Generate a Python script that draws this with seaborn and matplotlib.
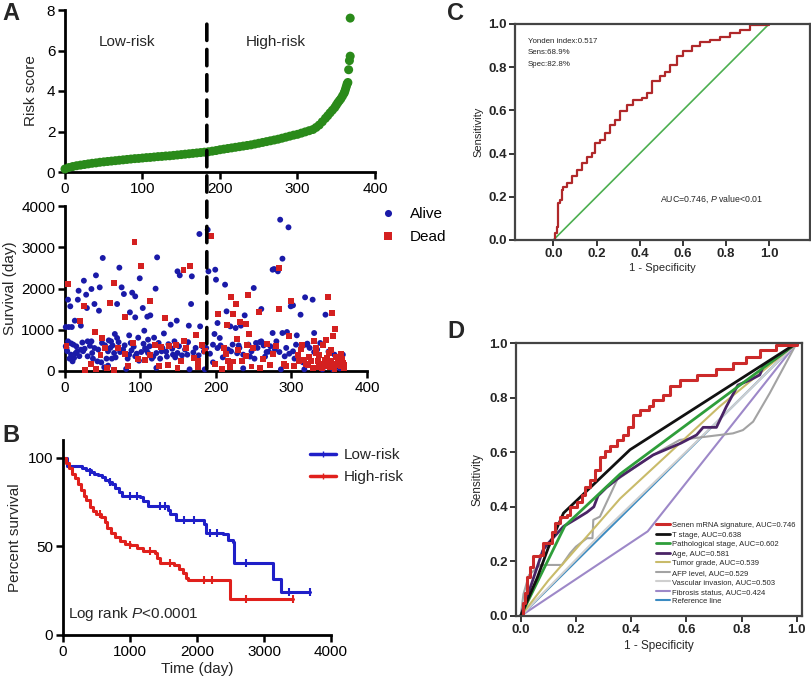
import numpy as np
import pandas as pd
import seaborn as sns
import matplotlib.pyplot as plt
import matplotlib.transforms as mtransforms
from matplotlib.lines import Line2D
from matplotlib.patches import ConnectionPatch

# ---- Panel A (top): sorted risk score ----
risk_rank = [0, 5, 10, 15, 20, 25, 30, 35, 40, 45, 50, 55, 60, 65, 70, 75, 80, 85, 90, 95,
             100, 105, 110, 115, 120, 125, 130, 135, 140, 145, 150, 155, 160, 165, 170, 175,
             180, 185, 190, 195, 200, 205, 210, 215, 220, 225, 230, 235, 240, 245, 250, 255,
             260, 265, 270, 275, 280, 285, 290, 295, 300, 305, 310, 315, 320, 324, 328, 332,
             336, 339, 342, 345, 348, 350, 352, 354, 356, 358, 360, 361, 362, 363, 364, 365,
             366, 367, 368, 368]
risk_score = [0.15, 0.22, 0.27, 0.31, 0.34, 0.37, 0.40, 0.43, 0.45, 0.48, 0.50, 0.52, 0.54, 0.56,
              0.58, 0.60, 0.62, 0.64, 0.66, 0.67, 0.69, 0.71, 0.72, 0.74, 0.76, 0.77, 0.79, 0.80,
              0.82, 0.84, 0.86, 0.88, 0.90, 0.92, 0.94, 0.96, 0.98, 1.00, 1.03, 1.06, 1.10, 1.13,
              1.16, 1.19, 1.22, 1.25, 1.28, 1.31, 1.34, 1.38, 1.42, 1.46, 1.50, 1.54, 1.58, 1.62,
              1.67, 1.72, 1.77, 1.82, 1.86, 1.92, 1.98, 2.04, 2.10, 2.20, 2.32, 2.48, 2.65, 2.78,
              2.92, 3.05, 3.18, 3.30, 3.42, 3.52, 3.62, 3.75, 3.88, 3.98, 4.10, 4.22, 4.35, 4.42,
              5.05, 5.50, 5.72, 7.60]
cutoff_rank = 183

# ---- Panel A (bottom): survival time by rank ----
alive_rank = [50, 122, 72, 99, 41, 25, 18, 28, 35, 46, 75, 78, 89, 93, 120, 4, 17, 7, 39, 29,
              69, 45, 103, 113, 109, 86, 93, 13, 21, 1, 5, 9, 66, 58, 69, 85, 97, 105, 110, 118,
              131, 4, 8, 15, 21, 30, 35, 39, 53, 61, 57, 65, 73, 79, 85, 101, 93, 106, 121, 128,
              8, 12, 10, 30, 36, 43, 110, 52, 57, 48, 81, 121, 1, 2, 16, 24, 62, 88, 115, 135,
              178, 189, 149, 152, 168, 190, 199, 200, 212, 250, 275, 167, 214, 238, 260, 140,
              148, 164, 179, 202, 226, 233, 219, 198, 205, 253, 260, 145, 162, 149, 182, 196,
              202, 220, 247, 251, 236, 267, 143, 196, 236, 165, 185, 258, 210, 230,
              285, 296, 288, 277, 282, 318, 328, 299, 302, 312, 345, 275, 288, 294, 307, 330,
              338, 280, 306, 319, 321, 291, 302, 330, 357, 368, 315, 286, 317, 341, 355, 364,
              3, 6, 11, 14, 19, 23, 26, 33, 37, 44, 49, 55, 60, 63, 67, 71, 77, 83, 87, 91, 95,
              98, 104, 108, 112, 117, 124, 126, 129, 134, 137, 142, 146, 151, 155, 159, 163,
              170, 173, 177, 184, 187, 192, 206, 209, 216, 222, 228, 231, 243, 245, 255, 263,
              265, 270, 272, 278, 284, 293, 297, 304, 313, 324, 334, 349, 360]
alive_days = [2740, 2755, 2505, 2247, 2319, 2189, 1946, 1850, 1988, 2028, 2028, 1866, 1899, 1810,
              1996, 1729, 1729, 1568, 1624, 1527, 1624, 1462, 1527, 1349, 1317, 1422, 1300, 1220,
              1099, 1066, 1066, 1066, 897, 743, 800, 864, 808, 977, 760, 808, 910, 719, 670, 598,
              517, 719, 719, 557, 622, 719, 477, 436, 460, 622, 396, 460, 356, 550, 436, 477, 396,
              315, 234, 356, 436, 234, 436, 90, 130, 210, 50, 75, 600, 560, 470, 480, 300, 500,
              300, 350,
              3321, 3425, 2416, 2319, 2295, 2416, 2456, 2214, 2093, 2012, 2456, 1624, 1446, 1349,
              1503, 1123, 1220, 1099, 1082, 1163, 1042, 1099, 1082, 897, 800, 679, 719, 719, 396,
              436, 598, 638, 557, 477, 477, 299, 396, 460, 396, 210, 65, 40, 40, 700, 560, 620,
              3668, 3483, 2723, 2472, 2416, 1786, 1729, 1568, 1592, 1365, 1365, 921, 921, 945,
              864, 921, 679, 719, 638, 638, 663, 356, 477, 460, 396, 396, 210, 40, 40, 40, 40, 65,
              480, 300, 640, 430, 360, 690, 540, 610, 300, 520, 680, 300, 560, 620, 330, 700,
              520, 300, 680, 590, 420, 250, 660, 500, 600, 350, 680, 300, 560, 470, 650, 540,
              330, 600, 380, 520, 700, 450, 560, 380, 470, 560, 420, 620, 330, 520, 640, 430,
              560, 640, 350, 560, 620, 350, 470, 600, 520, 460, 560, 420, 300, 560, 560, 520,
              470, 330]
dead_rank = [92, 101, 4, 65, 112, 25, 60, 80, 20, 132, 40, 49, 90, 127, 53, 79, 113, 47, 97,
             27, 41, 65, 125,
             193, 157, 166, 242, 220, 226, 203, 223, 257, 214, 240, 232, 228, 244, 241, 267,
             174, 158, 147, 138, 181, 213, 216, 240, 229, 154, 171, 176, 222, 247, 258, 149,
             176, 208,
             283, 299, 348, 283, 354, 358, 297, 355, 346, 330, 280, 314, 309, 333, 337, 350,
             366, 310, 317, 326, 335, 344, 348, 353, 361, 368, 365, 346, 339, 369, 293, 357,
             322, 340, 362,
             2, 34, 56, 70, 84, 106, 119, 137, 160, 186, 199, 211, 218, 235, 249, 262, 271,
             276, 290, 303, 312, 319, 323, 328, 332, 336, 343, 347, 351, 356, 359, 363, 367,
             370, 352, 342]
dead_days = [3127, 2537, 2117, 2140, 1689, 1568, 1640, 1317, 1220, 1276, 937, 800, 687, 590,
             550, 412, 380, 380, 299, 25, 50, 20, 130,
             3265, 2456, 2537, 1850, 1802, 1624, 1382, 1373, 1422, 1123, 1139, 1188, 768, 897,
             638, 663, 881, 719, 622, 598, 638, 412, 250, 356, 517, 234, 315, 234, 230, 108,
             65, 65, 100, 40,
             2488, 1705, 1794, 1511, 1405, 1018, 840, 840, 760, 719, 598, 638, 396, 436, 396,
             436, 420, 234, 275, 250, 250, 275, 194, 234, 275, 194, 113, 113, 153, 65, 113, 40,
             150, 60, 150,
             600, 160, 80, 560, 120, 260, 640, 150, 560, 480, 160, 560, 100, 250, 560, 300, 150,
             420, 180, 120, 520, 160, 330, 80, 560, 90, 160, 320, 90, 180, 330, 200, 300, 150,
             500, 620]

# ---- Panel B: Kaplan-Meier ----
low_time = [0, 60, 280, 350, 420, 470, 520, 580, 630, 680, 730, 780, 830, 880, 1150, 1200,
            1270, 1560, 1600, 1680, 2100, 2140, 2390, 2470, 2530, 2550, 3130, 3250, 3680]
low_surv = [100, 95.3, 94, 93, 92, 91, 90, 89, 87.5, 86.5, 85, 83, 80.5, 78.5, 78, 75.5,
            72.5, 70.5, 68.5, 65, 62.5, 57.5, 57, 53.5, 52.5, 40.5, 31.5, 24.5, 24.5]
high_time = [0, 40, 90, 140, 180, 230, 270, 310, 350, 400, 450, 500, 560, 620, 660, 720, 780,
             850, 920, 1000, 1100, 1200, 1380, 1400, 1450, 1660, 1730, 1790, 1840, 1860, 2490,
             3440]
high_surv = [100, 97, 94, 91, 88.5, 85, 82, 78.5, 76, 72, 70, 68, 66.5, 63.5, 60.5, 57.5,
             55.5, 53, 51.5, 50.5, 49, 47.5, 46.5, 43.5, 40.5, 39.5, 37.5, 35, 32, 31, 20.5, 20.5]
low_cens_time = [400, 700, 1000, 1100, 1450, 1520, 1800, 1950, 2200, 2300, 2730, 3380, 3680]
low_cens_surv = [92, 86.5, 78.5, 78.5, 72.5, 72.5, 65, 65, 57.5, 57.5, 40.5, 24.5, 24.5]
high_cens_time = [550, 1000, 1300, 1600, 2100, 2220, 2730, 3440]
high_cens_surv = [68, 50.5, 47.5, 40.5, 31, 31, 20.5, 20.5]

# ---- Panel C: ROC ----
roc_fpr = [0, 0.008, 0.015, 0.02, 0.031, 0.039, 0.046, 0.065, 0.085, 0.108, 0.131, 0.155, 0.178,
           0.193, 0.216, 0.24, 0.263, 0.286, 0.309, 0.34, 0.371, 0.41, 0.433, 0.456, 0.495,
           0.518, 0.541, 0.572, 0.603, 0.641, 0.68, 0.726, 0.773, 0.819, 0.866, 0.912, 1.0]
roc_tpr = [0, 0.031, 0.062, 0.17, 0.185, 0.232, 0.247, 0.266, 0.294, 0.325, 0.355, 0.386, 0.402,
           0.448, 0.464, 0.495, 0.533, 0.556, 0.595, 0.626, 0.649, 0.657, 0.68, 0.734, 0.757,
           0.78, 0.811, 0.85, 0.873, 0.896, 0.915, 0.927, 0.94, 0.958, 0.974, 0.994, 1.0]

# ---- Panel D: ROC of clinical factors ----
d_names = ["Senen mRNA signature, AUC=0.746", "T stage, AUC=0.638",
           "Pathological stage, AUC=0.602", "Age, AUC=0.581", "Tumor grade, AUC=0.539",
           "AFP level, AUC=0.529", "Vascular invasion, AUC=0.503",
           "Fibrosis status, AUC=0.424", "Reference line"]
d_colors = ["#cc2a2a", "#111111", "#2e9e3a", "#4a2466", "#c9bb6a", "#a3a3a3", "#cfcfcf",
            "#9d88c8", "#3b8bc2"]
d_fpr = [
    [0, 0.007, 0.016, 0.024, 0.034, 0.046, 0.07, 0.082, 0.1, 0.112, 0.124, 0.143, 0.167, 0.179,
     0.203, 0.221, 0.233, 0.251, 0.269, 0.287, 0.306, 0.324, 0.348, 0.372, 0.39, 0.408, 0.432,
     0.463, 0.481, 0.517, 0.541, 0.576, 0.637, 0.709, 0.769, 0.817, 0.866, 0.926, 1.0],
    [0, 0.06, 0.1, 0.155, 0.396, 1.0],
    [0, 0.16, 0.36, 1.0],
    [0, 0.03, 0.08, 0.1, 0.13, 0.155, 0.2, 0.24, 0.265, 0.28, 0.31, 0.36, 0.48, 0.58, 0.637,
     0.661, 0.709, 0.745, 0.787, 0.83, 0.866, 0.878, 0.92, 1.0],
    [0, 0.1, 0.36, 0.72, 1.0],
    [0, 0.01, 0.03, 0.07, 0.149, 0.179, 0.2, 0.24, 0.26, 0.263, 0.287, 0.35, 0.48, 0.576,
     0.769, 0.805, 0.842, 0.902, 1.0],
    [0, 0.3, 0.7, 1.0],
    [0, 0.46, 1.0],
    [0, 1.0],
]
d_tpr = [
    [0, 0.046, 0.083, 0.144, 0.181, 0.218, 0.224, 0.267, 0.267, 0.309, 0.34, 0.364, 0.37, 0.401,
     0.419, 0.444, 0.474, 0.499, 0.535, 0.584, 0.603, 0.621, 0.645, 0.664, 0.694, 0.737, 0.755,
     0.768, 0.792, 0.81, 0.841, 0.866, 0.884, 0.905, 0.927, 0.95, 0.974, 0.992, 1.0],
    [0, 0.14, 0.25, 0.377, 0.609, 1.0],
    [0, 0.33, 0.52, 1.0],
    [0, 0.09, 0.24, 0.267, 0.3, 0.328, 0.355, 0.38, 0.4, 0.44, 0.47, 0.51, 0.59, 0.633, 0.663,
     0.691, 0.691, 0.767, 0.846, 0.864, 0.883, 0.913, 0.94, 1.0],
    [0, 0.13, 0.43, 0.767, 1.0],
    [0, 0.08, 0.15, 0.187, 0.187, 0.23, 0.254, 0.285, 0.285, 0.352, 0.364, 0.5, 0.59, 0.645,
     0.669, 0.681, 0.712, 0.816, 1.0],
    [0, 0.31, 0.7, 1.0],
    [0, 0.31, 1.0],
    [0, 1.0],
]
d_steps = [True, False, False, False, False, False, False, False, False]
d_widths = [2.2, 2.0, 2.0, 2.0, 1.5, 1.5, 1.5, 1.5, 1.5]

sns.set_style("ticks")
plt.rcParams['font.family'] = ['Liberation Sans', 'DejaVu Sans']
plt.rcParams['mathtext.fontset'] = 'custom'
plt.rcParams['mathtext.it'] = 'Liberation Sans:italic'
plt.rcParams['mathtext.rm'] = 'Liberation Sans'

W, H = 812, 684
fig = plt.figure(figsize=(W / 100, H / 100), dpi=100)


def px_axes(l, t, r, b):
    return fig.add_axes([l / W, 1 - b / H, (r - l) / W, (b - t) / H])


def style_open(ax):
    sns.despine(ax=ax)
    for s in ["left", "bottom"]:
        ax.spines[s].set_linewidth(2)
        ax.spines[s].set_color("black")
    ax.tick_params(direction="out", length=5, width=1.8, labelsize=11, colors="black", pad=2)


def style_box(ax):
    for s in ax.spines.values():
        s.set_linewidth(1.6)
        s.set_color("#444444")
    ax.tick_params(direction="out", length=4, width=1.3, labelsize=9.5, pad=2)
    for lab in ax.get_xticklabels() + ax.get_yticklabels():
        lab.set_fontweight("bold")


green = "#2a8a1a"
blue = "#1a1aa8"
red = "#d42020"

# Panel A top
ax1 = px_axes(65, 10, 375, 172)
sns.scatterplot(x=risk_rank, y=risk_score, color=green, s=42, edgecolor="none", ax=ax1,
                clip_on=False, zorder=3)
ax1.set_xlim(0, 400)
ax1.set_ylim(0, 8)
ax1.set_xticks(range(0, 401, 100))
ax1.set_yticks(range(0, 9, 2))
ax1.set_ylabel("Risk score", fontsize=11, labelpad=6)
ax1.text(80, 6.4, "Low-risk", fontsize=11, ha="center", va="center")
ax1.text(272, 6.4, "High-risk", fontsize=11, ha="center", va="center")
style_open(ax1)

# Panel A bottom
ax2 = px_axes(65, 206, 367, 371)
surv_df = pd.DataFrame({
    "rank": alive_rank + dead_rank,
    "days": alive_days + dead_days,
    "status": ["Alive"] * len(alive_rank) + ["Dead"] * len(dead_rank),
})
sns.scatterplot(data=surv_df, x="rank", y="days", hue="status", style="status",
                palette={"Alive": blue, "Dead": red}, markers={"Alive": "o", "Dead": "s"},
                s=18, edgecolor="none", ax=ax2, clip_on=False, zorder=3)
ax2.set_xlim(0, 400)
ax2.set_ylim(0, 4000)
ax2.set_xticks(range(0, 401, 100))
ax2.set_yticks(range(0, 4001, 1000))
ax2.set_xlabel("")
ax2.set_ylabel("Survival (day)", fontsize=11, labelpad=3)
style_open(ax2)
leg = ax2.legend(loc="upper left", bbox_to_anchor=(1.0, 1.03), frameon=False, fontsize=11,
                 handletextpad=0.4, labelspacing=0.6, markerscale=1.2, borderaxespad=0)
for t in leg.get_texts():
    t.set_color("black")

# cutoff dashed line across both scatter panels
con = ConnectionPatch(xyA=(cutoff_rank, 7.3), coordsA=ax1.transData,
                      xyB=(cutoff_rank, 0),
                      coordsB=mtransforms.blended_transform_factory(ax1.transData, ax2.transData),
                      color="black", lw=2.6, linestyle=(0, (4.5, 2.5)), zorder=5)
fig.add_artist(con)

# Panel B
ax3 = px_axes(63, 440, 331, 635)
sns.lineplot(x=low_time, y=low_surv, drawstyle="steps-post", color="#1f1fc8", lw=2.2,
             estimator=None, ax=ax3)
sns.lineplot(x=high_time, y=high_surv, drawstyle="steps-post", color="#e0201c", lw=2.2,
             estimator=None, ax=ax3)
sns.scatterplot(x=low_cens_time, y=low_cens_surv, marker="|", color="#1f1fc8", s=30,
                linewidth=1.5, ax=ax3)
sns.scatterplot(x=high_cens_time, y=high_cens_surv, marker="|", color="#e0201c", s=30,
                linewidth=1.5, ax=ax3)
ax3.set_xlim(0, 4000)
ax3.set_ylim(0, 110)
ax3.set_xticks(range(0, 4001, 1000))
ax3.set_yticks([0, 50, 100])
ax3.set_xlabel("Time (day)", fontsize=11, labelpad=2)
ax3.set_ylabel("Percent survival", fontsize=11, labelpad=4)
ax3.text(80, 12, "Log rank $\\mathit{P}$<0.0001", fontsize=11, ha="left", va="center")
style_open(ax3)
km_handles = [Line2D([], [], color="#1f1fc8", lw=2.5, marker="|", markersize=5),
              Line2D([], [], color="#e0201c", lw=2.5, marker="|", markersize=5)]
ax3.legend(km_handles, ["Low-risk", "High-risk"], loc="upper left", bbox_to_anchor=(0.9, 0.99),
           frameon=False, fontsize=11, handlelength=1.7, handletextpad=0.5, labelspacing=0.55,
           borderaxespad=0)

# Panel C
ax4 = px_axes(515, 24, 810, 240)
sns.lineplot(x=[0, 1], y=[0, 1], color="#4caf50", lw=1.2, ax=ax4)
sns.lineplot(x=roc_fpr, y=roc_tpr, drawstyle="steps-post", color="#b0282a", lw=1.6,
             estimator=None, sort=False, ax=ax4)
ax4.set_xlim(-0.178, 1.19)
ax4.set_ylim(0, 1)
ax4.set_xticks(np.arange(0, 1.01, 0.2))
ax4.set_yticks(np.arange(0, 1.01, 0.2))
ax4.xaxis.set_major_formatter(plt.FormatStrFormatter("%.1f"))
ax4.yaxis.set_major_formatter(plt.FormatStrFormatter("%.1f"))
ax4.set_xlabel("1 - Specificity", fontsize=8, labelpad=2)
ax4.set_ylabel("Sensitivity", fontsize=8, labelpad=3)
style_box(ax4)
ax4.text(-0.12, 0.92, "Yonden index:0.517", fontsize=5.7, va="center")
ax4.text(-0.12, 0.866, "Sens:68.9%", fontsize=5.7, va="center")
ax4.text(-0.12, 0.811, "Spec:82.8%", fontsize=5.7, va="center")
ax4.text(0.495, 0.19, "AUC=0.746, $\\mathit{P}$ value<0.01", fontsize=6.3, va="center")

# Panel D
ax5 = px_axes(516, 343, 802, 616)
for i in reversed(range(len(d_names))):
    kw = {"drawstyle": "steps-post"} if d_steps[i] else {}
    sns.lineplot(x=d_fpr[i], y=d_tpr[i], color=d_colors[i], lw=d_widths[i], estimator=None,
                 sort=False, ax=ax5, **kw)
ax5.set_xlim(-0.017, 1.019)
ax5.set_ylim(0, 1)
ax5.set_xticks(np.arange(0, 1.01, 0.2))
ax5.set_yticks(np.arange(0, 1.01, 0.2))
ax5.xaxis.set_major_formatter(plt.FormatStrFormatter("%.1f"))
ax5.yaxis.set_major_formatter(plt.FormatStrFormatter("%.1f"))
ax5.set_xlabel("1 - Specificity", fontsize=8.5, labelpad=3)
ax5.set_ylabel("Sensitivity", fontsize=8.5, labelpad=4)
style_box(ax5)
d_handles = [Line2D([], [], color=c, lw=w) for c, w in zip(d_colors, d_widths)]
ax5.legend(d_handles, d_names, loc="upper left", bbox_to_anchor=(0.49, 0.345), frameon=False,
           fontsize=5.5, handlelength=1.8, handletextpad=0.3, labelspacing=0.28,
           borderaxespad=0, borderpad=0)

# panel letters
for letter, x, y in [("A", 2, 14), ("B", 2, 436), ("C", 447, 13), ("D", 447, 331)]:
    fig.text(x / W, 1 - y / H, letter, fontsize=17, fontweight="bold", va="center", ha="left")

fig.savefig("out.png", dpi=100)
